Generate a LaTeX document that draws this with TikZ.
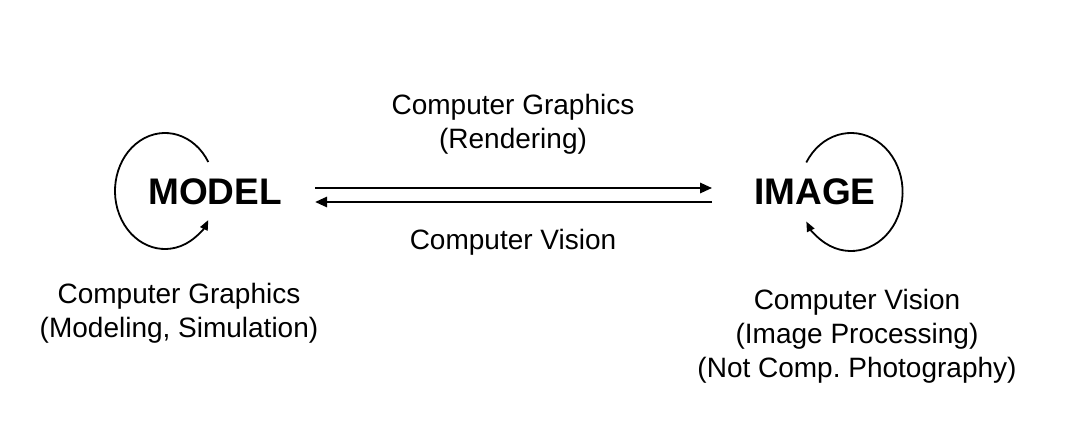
\documentclass[tikz,border=0pt]{standalone}
\usepackage{fontspec}
\setmainfont{Liberation Sans}
\usetikzlibrary{arrows.meta,calc}
\begin{document}
\begin{tikzpicture}[x=1pt,y=1pt,
  big/.style={font=\fontsize{37}{40}\selectfont\bfseries, inner sep=0pt},
  lbl/.style={font=\fontsize{28}{34}\selectfont, align=center, inner sep=0pt},
  conn/.style={line width=2.6pt, -{Triangle[length=12pt,width=10pt]}},
  loop/.style={line width=1.8pt, -{Triangle[length=10pt,width=8pt]}}]
\useasboundingbox (0,0) rectangle (1065,421);
\node[big] (model) at (215,229) {MODEL};
\node[big] (image) at (815,229) {IMAGE};
\draw[loop] (model.center) ++(-50,1) ++(30:50 and 58) arc[start angle=30,end angle=330,x radius=50,y radius=58];
\draw[loop] (image.center) ++(36,0) ++(150:51.6 and 59) arc[start angle=150,end angle=-150,x radius=51.6,y radius=59];
\draw[conn] ($(model.east)+(33,4)$) -- ($(image.west)+(-42,4)$);
\draw[conn] ($(image.west)+(-42,-10)$) -- ($(model.east)+(33,-10)$);
\node[lbl] (cgr) at (513,297) {Computer Graphics\\(Rendering)};
\node[lbl] (cv) at (513,179) {Computer Vision};
\node[lbl] (cgm) at (179,108) {Computer Graphics\\(Modeling, Simulation)};
\node[lbl] (cvi) at (857,85) {Computer Vision\\(Image Processing)\\(Not Comp.\ Photography)};
\end{tikzpicture}
\end{document}
